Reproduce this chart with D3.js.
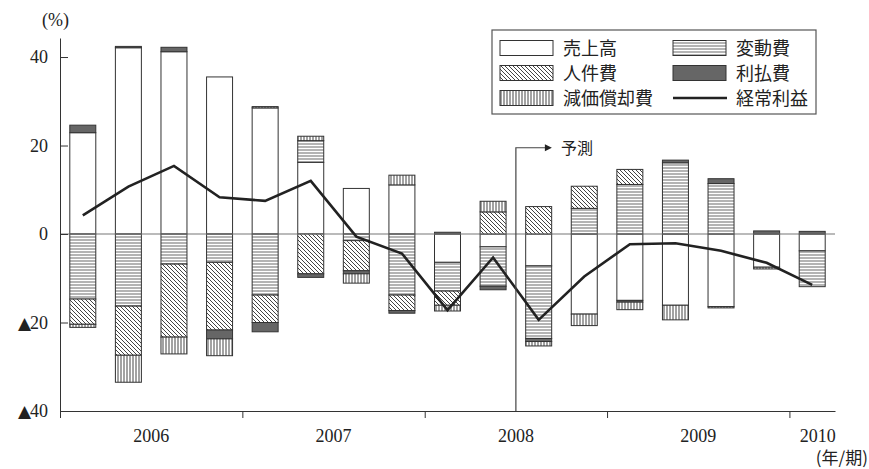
<!DOCTYPE html>
<html>
<head>
<meta charset="utf-8">
<script src="https://cdn.jsdelivr.net/npm/d3@7"></script>
<style>
  body { margin: 0; background: #fff; }
  svg { display: block; font-family: "Liberation Serif", "DejaVu Serif", serif; }
  .jp { font-family: "Noto Sans CJK JP", sans-serif; }
</style>
</head>
<body>
<svg id="chart" width="869" height="469"></svg>
<script>
// quarterly contributions to ordinary-profit growth (%)
const quarters = ['2006Q1','2006Q2','2006Q3','2006Q4','2007Q1','2007Q2','2007Q3','2007Q4',
                  '2008Q1','2008Q2','2008Q3','2008Q4','2009Q1','2009Q2','2009Q3','2009Q4','2010Q1'];
const years = ['2006', '2007', '2008', '2009', '2010'];

const sales        = [22.9, 42.1, 41.2, 35.5, 28.5, 16.2, 10.3, 11.1, -6.4, -2.9, -7.2, -18.1, -15.0, -16.1, -16.4, -7.5, -3.8];
const variableCost = [-14.7, -16.3, -6.8, -6.4, -13.8, 4.9, -1.5, -13.8, -6.5, -8.9, -16.4, 5.8, 11.2, 16.1, 11.4, 0, -8.1];
const laborCost    = [-5.7, -11.1, -16.5, -15.3, -6.2, -9.0, -6.8, -3.5, -3.2, 5.0, 6.2, 5.0, 3.4, 0, 0, 0, 0];
const interestCost = [1.7, 0.3, 1.0, -2.0, -2.1, -0.8, -0.7, -0.6, 0.4, -0.8, -0.7, 0, -0.4, 0.6, 1.1, 0.7, 0.6];
const depreciation = [-0.7, -6.1, -3.8, -3.8, 0.3, 1.0, -2.1, 2.2, -1.3, 2.4, -1.0, -2.6, -1.7, -3.3, -0.3, -0.4, 0];
const profit       = [4.2, 10.7, 15.4, 8.3, 7.5, 12.0, -0.6, -4.4, -17.2, -5.3, -19.4, -9.6, -2.3, -2.1, -3.8, -6.5, -11.5];

const yTicks = [40, 20, 0, -20, -40];
const forecastFrom = 10; // index of first forecast quarter (2008Q3)

const keys = ['sales', 'variable', 'labor', 'interest', 'deprec'];
const names = {sales: '売上高', variable: '変動費', labor: '人件費', interest: '利払費', deprec: '減価償却費'};

const rows = quarters.map((q, i) => ({
  q: q,
  sales: sales[i],
  variable: variableCost[i],
  labor: laborCost[i],
  interest: interestCost[i],
  deprec: depreciation[i]
}));

const margin = {top: 38, right: 34, bottom: 58, left: 60};
const width = 869 - margin.left - margin.right;
const height = 469 - margin.top - margin.bottom;

const svg = d3.select('#chart');

// patterns
const defs = svg.append('defs');
function pattern(id, size, draw) {
  const p = defs.append('pattern')
    .attr('id', id)
    .attr('patternUnits', 'userSpaceOnUse')
    .attr('width', size).attr('height', size);
  p.append('rect').attr('width', size).attr('height', size).attr('fill', '#fff');
  draw(p);
}
pattern('hLines', 3, (p) => p.append('line').attr('x1', 0).attr('x2', 3).attr('y1', 1).attr('y2', 1)
  .attr('stroke', '#777').attr('stroke-width', 1.1));
pattern('vLines', 3, (p) => p.append('line').attr('x1', 1).attr('x2', 1).attr('y1', 0).attr('y2', 3)
  .attr('stroke', '#555').attr('stroke-width', 1.1));
pattern('dLines', 4, (p) => {
  p.append('path').attr('d', 'M0,0 L4,4 M-1,3 L1,5 M3,-1 L5,1')
    .attr('stroke', '#444').attr('stroke-width', 1);
});

const fills = {sales: '#fff', variable: 'url(#hLines)', labor: 'url(#dLines)', interest: '#666', deprec: 'url(#vLines)'};

const g = svg.append('g')
  .attr('transform', 'translate(' + margin.left + ',' + margin.top + ')');

const x = d3.scaleBand()
  .domain(quarters)
  .range([0, width])
  .paddingInner(0.43)
  .paddingOuter(0.215);

const y = d3.scaleLinear()
  .domain([-40, 44.3])
  .range([height, 0]);

// quarter index scale for year boundary ticks
const qx = d3.scaleLinear().domain([0, quarters.length]).range([0, width]);

const series = d3.stack()
  .keys(keys)
  .offset(d3.stackOffsetDiverging)(rows);

// bars
g.selectAll('.layer')
  .data(series)
  .enter().append('g')
  .attr('class', 'layer')
  .attr('fill', (d) => fills[d.key])
  .selectAll('rect')
  .data((d) => d.filter((v) => v[1] - v[0] !== 0))
  .enter().append('rect')
  .attr('x', (d) => x(d.data.q))
  .attr('width', x.bandwidth())
  .attr('y', (d) => y(Math.max(d[0], d[1])))
  .attr('height', (d) => Math.abs(y(d[0]) - y(d[1])))
  .attr('stroke', '#333')
  .attr('stroke-width', 1);

// zero line
g.append('line')
  .attr('x1', 0).attr('x2', width)
  .attr('y1', y(0)).attr('y2', y(0))
  .attr('stroke', '#777').attr('stroke-width', 1.2);

// axes
const yAxis = g.append('g')
  .call(d3.axisLeft(y)
    .tickValues(yTicks)
    .tickSizeInner(-8)
    .tickSizeOuter(0)
    .tickPadding(12)
    .tickFormat((d) => Math.abs(d)));
yAxis.select('.domain').attr('stroke', '#333');
yAxis.selectAll('.tick line').attr('stroke', '#333');
yAxis.selectAll('.tick text')
  .attr('font-size', 18)
  .attr('fill', '#222')
  .attr('font-family', '"Liberation Serif", serif');
// negative values are shown with a black triangle mark
yAxis.selectAll('.tick text')
  .filter((d) => d < 0)
  .each(function(d) {
    const t = d3.select(this).text('');
    t.append('tspan')
      .attr('font-family', '"DejaVu Sans", sans-serif')
      .attr('font-size', 17)
      .attr('letter-spacing', -1)
      .text('▲');
    t.append('tspan').text(-d);
  });

const xAxis = g.append('g')
  .attr('transform', 'translate(0,' + height + ')')
  .call(d3.axisBottom(qx)
    .tickValues([0, 4, 8, 12, 16])
    .tickSizeInner(7)
    .tickSizeOuter(0)
    .tickFormat(''));
xAxis.select('.domain').attr('stroke', '#333');
xAxis.selectAll('.tick line').attr('stroke', '#333');

// year labels
g.selectAll('.year')
  .data(years)
  .enter().append('text')
  .attr('class', 'year')
  .attr('x', (d, i) => i < 4 ? qx(i * 4 + 2) : qx(16.62))
  .attr('y', height + 31)
  .attr('text-anchor', 'middle')
  .attr('font-size', 18)
  .attr('fill', '#222')
  .text((d) => d);

// ordinary profit line
const line = d3.line()
  .x((d, i) => x(quarters[i]) + x.bandwidth() / 2)
  .y((d) => y(d));

g.append('path')
  .datum(profit)
  .attr('fill', 'none')
  .attr('stroke', '#222')
  .attr('stroke-width', 2.6)
  .attr('stroke-linejoin', 'miter')
  .attr('d', line);

// forecast marker
const fx = qx(forecastFrom);
const fy = y(19.5);
g.append('path')
  .attr('d', 'M' + fx + ',' + height + 'V' + fy + 'H' + (fx + 30))
  .attr('fill', 'none')
  .attr('stroke', '#444')
  .attr('stroke-width', 1.2);
g.append('path')
  .attr('d', 'M' + (fx + 36) + ',' + fy + 'l-7,-3.5v7z')
  .attr('fill', '#222');
g.append('text')
  .attr('class', 'jp')
  .attr('x', fx + 45)
  .attr('y', fy + 6)
  .attr('font-size', 16)
  .attr('fill', '#222')
  .text('予測');

// unit labels
svg.append('text')
  .attr('x', 42).attr('y', 26)
  .attr('font-size', 18)
  .attr('fill', '#222')
  .text('(%)');
svg.append('text')
  .attr('class', 'jp')
  .attr('x', 868).attr('y', 464)
  .attr('text-anchor', 'end')
  .attr('font-size', 17)
  .attr('fill', '#222')
  .text('(年/期)');

// legend
const legend = svg.append('g').attr('transform', 'translate(492,30)');
legend.append('rect')
  .attr('width', 324).attr('height', 84)
  .attr('fill', '#fff')
  .attr('stroke', '#555').attr('stroke-width', 1.2);

const legendItems = [
  {key: 'sales', col: 0, row: 0},
  {key: 'variable', col: 1, row: 0},
  {key: 'labor', col: 0, row: 1},
  {key: 'interest', col: 1, row: 1},
  {key: 'deprec', col: 0, row: 2},
  {key: 'profit', col: 1, row: 2}
];

const item = legend.selectAll('.item')
  .data(legendItems)
  .enter().append('g')
  .attr('class', 'item')
  .attr('transform', (d) => 'translate(' + (8 + d.col * 173) + ',' + (18 + d.row * 25) + ')');

item.filter((d) => d.key !== 'profit')
  .append('rect')
  .attr('y', -7.5)
  .attr('width', 53).attr('height', 15)
  .attr('fill', (d) => fills[d.key])
  .attr('stroke', '#333');

item.filter((d) => d.key === 'profit')
  .append('line')
  .attr('x1', 0).attr('x2', 54)
  .attr('stroke', '#222').attr('stroke-width', 2.6);

item.append('text')
  .attr('class', 'jp')
  .attr('x', 63)
  .attr('y', 6.5)
  .attr('font-size', 18)
  .attr('fill', '#222')
  .text((d) => d.key === 'profit' ? '経常利益' : names[d.key]);
</script>
</body>
</html>
